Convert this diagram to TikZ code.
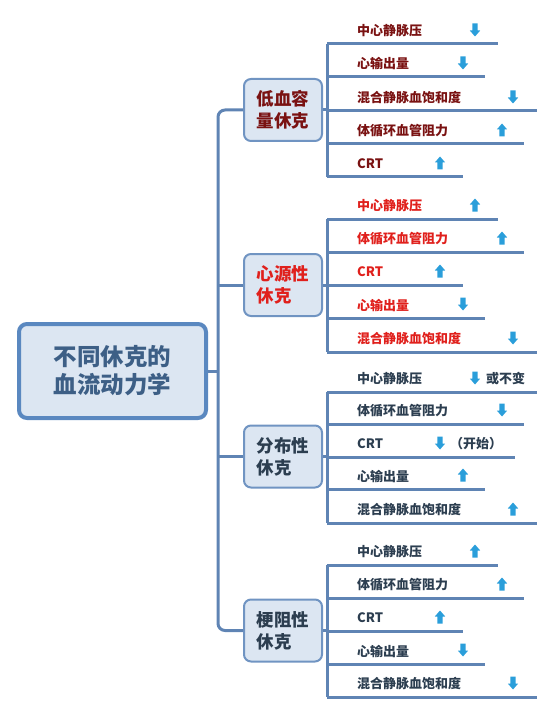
\documentclass[tikz,border=0pt]{standalone}
\usepackage{fontspec}
\setmainfont{Noto Sans CJK SC}
\definecolor{conncol}{HTML}{5F84B4}
\definecolor{boxfill}{HTML}{DCE6F2}
\definecolor{rootborder}{HTML}{5A88C0}
\definecolor{catborder}{HTML}{7094C2}
\definecolor{roottext}{HTML}{3D5F86}
\definecolor{darkred}{HTML}{7A1212}
\definecolor{brightred}{HTML}{E0201C}
\definecolor{slate}{HTML}{2C3E50}
\definecolor{arrowblue}{HTML}{2A9EDA}
\newcommand\leaf[7]{%
  \node[leaftext,#5] (#1) at (357,#2-13) {#4};
  \pic[rotate=#7] (#1a) at (#6,#2-14) {blockarrow};
  \coordinate (#1s) at (327,#2);
  \coordinate (#1e) at (#3,#2);
  \draw[conn] (#1s) -- (#1e);
}
\begin{document}
\begin{tikzpicture}[x=1pt,y=-1pt,
  conn/.style={draw=conncol,line width=3pt},
  rootbox/.style={draw=rootborder,line width=4pt,fill=boxfill,rounded corners=8pt,
    minimum width=187pt,minimum height=94pt,align=center,text=roottext,
    font=\fontsize{23.5}{28}\selectfont\bfseries},
  catbox/.style={draw=catborder,line width=2pt,fill=boxfill,rounded corners=7pt,
    minimum width=78pt,minimum height=62pt,align=left,
    font=\fontsize{17.5}{22}\selectfont\bfseries},
  leaftext/.style={anchor=west,inner sep=0pt,font=\fontsize{13}{15}\selectfont\bfseries},
  blockarrow/.pic={\fill[arrowblue] (0,-6.5) -- (5.2,-0.5) -- (2.6,-0.5) -- (2.6,6.5)
      -- (-2.6,6.5) -- (-2.6,-0.5) -- (-5.2,-0.5) -- cycle;},
  c1/.style={text=darkred},
  c2/.style={text=brightred},
  c3/.style={text=slate}]
\useasboundingbox (0,0) rectangle (555,714);

% root and categories
\node[rootbox] (root) at (112.5,371) {不同休克的\\血流动力学};
\node[catbox,c1] (k1) at (283,110) {低血容\\量休克};
\node[catbox,c2] (k2) at (283,285) {心源性\\休克};
\node[catbox,c3] (k3) at (283,456.5) {分布性\\休克};
\node[catbox,c3] (k4) at (283,630.5) {梗阻性\\休克};

% trunk
\coordinate (t1) at (218,110);
\coordinate (t4) at (218,630.5);
\draw[conn,rounded corners=7pt] (k1.west) -- (t1) -- (t4) -- (k4.west);
\draw[conn] (root.east) -- (root.east -| t1);
\draw[conn] (k2.west) -- (k2.west -| t1);
\draw[conn] (k3.west) -- (k3.west -| t1);

% category 1
\leaf{a1}{44}{498}{中心静脉压}{c1}{475}{180}
\leaf{a2}{77}{485}{心输出量}{c1}{463}{180}
\leaf{a3}{111}{537}{混合静脉血饱和度}{c1}{513}{180}
\leaf{a4}{144}{524}{体循环血管阻力}{c1}{502}{0}
\leaf{a5}{177}{463}{CRT}{c1}{440}{0}
\draw[conn] (a1s) -- (a5s);
\draw[conn] (k1.east) -- (k1.east -| a1s);

% category 2
\leaf{b1}{219}{498}{中心静脉压}{c2}{475}{0}
\leaf{b2}{252}{524}{体循环血管阻力}{c2}{502}{0}
\leaf{b3}{285}{463}{CRT}{c2}{440}{0}
\leaf{b4}{318}{485}{心输出量}{c2}{463}{180}
\leaf{b5}{352}{537}{混合静脉血饱和度}{c2}{513}{180}
\draw[conn] (b1s) -- (b5s);
\draw[conn] (k2.east) -- (k2.east -| b1s);

% category 3
\leaf{d1}{392}{537}{中心静脉压}{c3}{475}{180}
\leaf{d2}{424}{524}{体循环血管阻力}{c3}{502}{180}
\leaf{d3}{457}{515}{CRT}{c3}{440}{180}
\leaf{d4}{489}{485}{心输出量}{c3}{463}{0}
\leaf{d5}{523}{537}{混合静脉血饱和度}{c3}{513}{0}
\node[leaftext,c3] (d1x) at (486,379) {或不变};
\node[leaftext,c3] (d3x) at (450,444) {（开始）};
\draw[conn] (d1s) -- (d5s);
\draw[conn] (k3.east) -- (k3.east -| d1s);

% category 4
\leaf{e1}{565}{498}{中心静脉压}{c3}{475}{0}
\leaf{e2}{598}{524}{体循环血管阻力}{c3}{502}{0}
\leaf{e3}{631}{463}{CRT}{c3}{440}{0}
\leaf{e4}{664}{485}{心输出量}{c3}{463}{180}
\leaf{e5}{697}{537}{混合静脉血饱和度}{c3}{513}{180}
\draw[conn] (e1s) -- (e5s);
\draw[conn] (k4.east) -- (k4.east -| e1s);
\end{tikzpicture}
\end{document}
